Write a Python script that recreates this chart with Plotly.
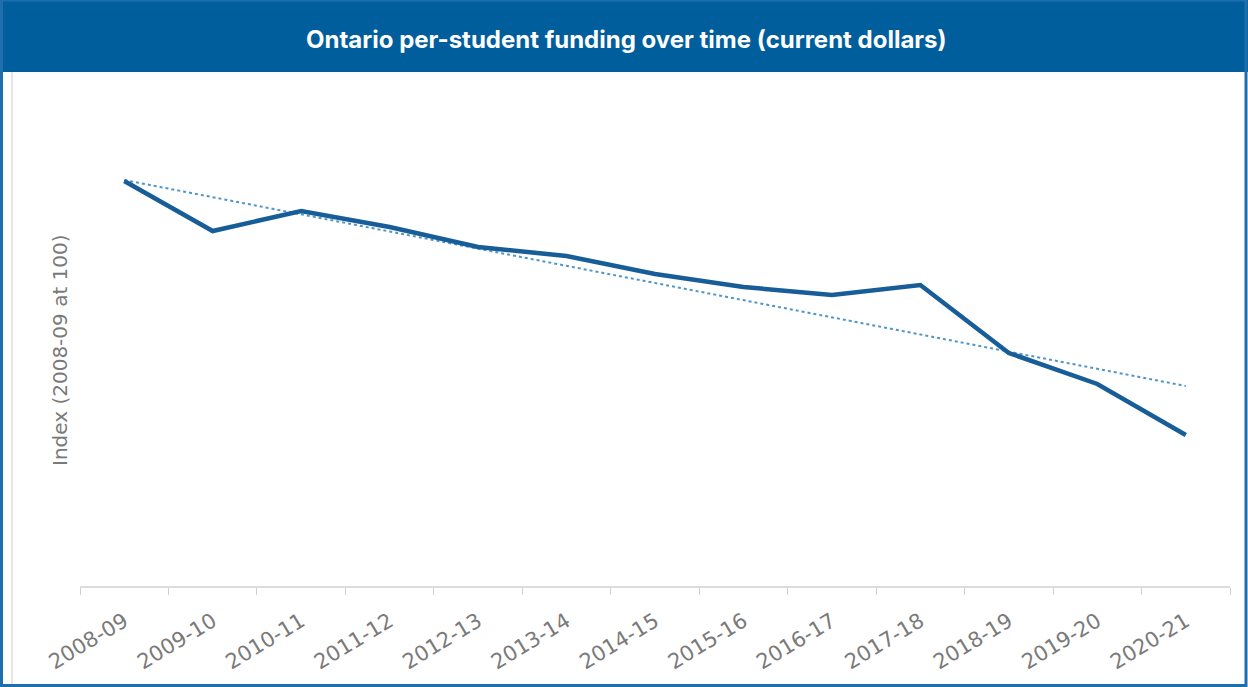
import plotly.graph_objects as go

years = ["2008-09", "2009-10", "2010-11", "2011-12", "2012-13", "2013-14", "2014-15",
         "2015-16", "2016-17", "2017-18", "2018-19", "2019-20", "2020-21"]
index_values = [100.0, 97.5, 98.5, 97.7, 96.7, 96.25, 95.35, 94.7, 94.3, 94.8, 91.4, 89.85, 87.3]
trend_x = ["2008-09", "2020-21"]
trend_values = [100.05, 89.75]

W, H = 1248, 687
fig = go.Figure()
fig.add_trace(go.Scatter(x=trend_x, y=trend_values, mode="lines",
                         line=dict(color="#4f95c8", width=2, dash="dot"), hoverinfo="skip"))
fig.add_trace(go.Scatter(x=years, y=index_values, mode="lines",
                         line=dict(color="#175d97", width=4.5)))

top_px, bot_px = 102, 586
fig.update_layout(
    width=W, height=H, margin=dict(l=0, r=0, t=0, b=0, autoexpand=False),
    paper_bgcolor="white", plot_bgcolor="white", showlegend=False,
    xaxis=dict(domain=[80 / W, 1230 / W], type="category", categoryorder="array",
               categoryarray=years, range=[-0.5, len(years) - 0.5],
               tickson="boundaries", ticks="outside", ticklen=7, ticklabelstandoff=13,
               tickcolor="#d0d0d0", showline=True, linecolor="#dcdcdc", linewidth=2,
               showgrid=False, tickangle=-31, automargin=False,
               tickfont=dict(family="DejaVu Sans", size=21, color="#7a7a7a")),
    yaxis=dict(domain=[(H - bot_px) / H, (H - top_px) / H], automargin=False,
               range=[100 - (bot_px - 181) * 0.05, 100 + (181 - top_px) * 0.05],
               showticklabels=False, showgrid=False, zeroline=False, showline=False, ticks=""),
    shapes=[
        dict(type="rect", xref="paper", yref="paper", x0=0, x1=1, y0=1 - 72 / H, y1=1,
             fillcolor="#005e9d", line=dict(width=0), layer="above"),
        dict(type="rect", xref="paper", yref="paper", x0=1.5 / W, x1=1 - 2 / W, y0=1.5 / H, y1=1,
             fillcolor="rgba(0,0,0,0)", line=dict(color="#1f6fae", width=3)),
        dict(type="line", xref="paper", yref="paper", x0=12 / W, x1=12 / W, y0=3 / H, y1=1 - 72 / H,
             line=dict(color="#e6e6e6", width=2)),
    ],
    annotations=[
        dict(text="<b>Ontario per-student funding over time (current dollars)</b>", xref="paper",
             yref="paper", x=626 / W, y=1 - 39 / H, showarrow=False, xanchor="center", yanchor="middle",
             font=dict(family="Inter, Roboto, Arial", size=24, color="white")),
        dict(text="Index (2008-09 at 100)", xref="paper", yref="paper", x=60 / W, y=1 - 350 / H,
             textangle=-90, showarrow=False, xanchor="center", yanchor="middle",
             font=dict(family="DejaVu Sans", size=20, color="#7a7a7a")),
    ],
)
fig.write_html("out.html")
